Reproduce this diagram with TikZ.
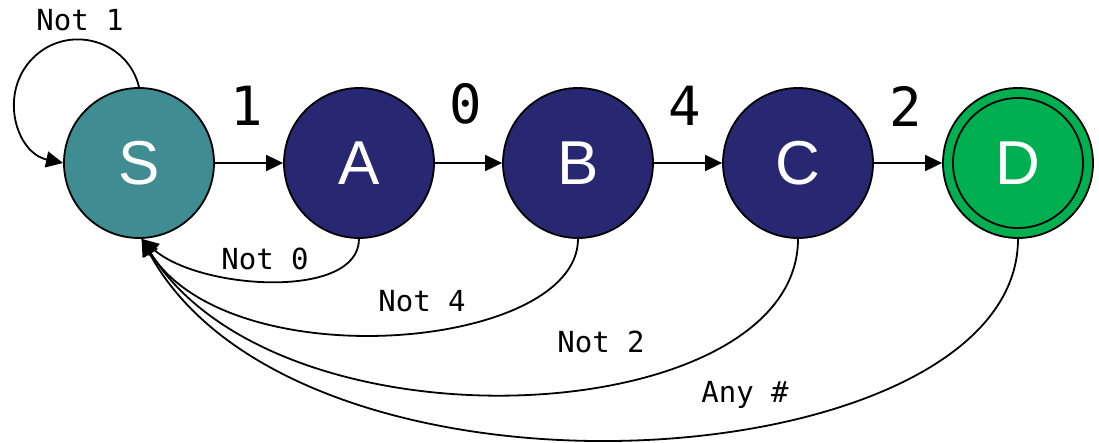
\documentclass[tikz,border=0pt]{standalone}
\usepackage{fontspec}
\setmainfont{Liberation Sans}
\newfontfamily\codefont{DejaVu Sans Mono}
\usetikzlibrary{arrows.meta}
\definecolor{startteal}{HTML}{3F8C92}
\definecolor{midnavy}{HTML}{282872}
\definecolor{acceptgreen}{HTML}{00B050}

\tikzset{
  state/.style={circle,draw=black,line width=1.8pt,minimum size=150pt,inner sep=0pt,
    text=white,font=\fontsize{62}{62}\selectfont},
  edge/.style={line width=1.8pt,-{Triangle[length=17pt,width=16pt]}},
  digit/.style={font=\codefont\fontsize{54}{54}\selectfont},
  note/.style={font=\codefont\fontsize{29}{29}\selectfont}
}

\begin{document}
\begin{tikzpicture}[x=1pt,y=-1pt]
  \useasboundingbox (0,0) rectangle (1099,442);
  % states
  \node[state,fill=startteal] (S) at (139,163) {S};
  \node[state,fill=midnavy] (A) at (359,163) {A};
  \node[state,fill=midnavy] (B) at (578,163) {B};
  \node[state,fill=midnavy] (C) at (798,163) {C};
  \node[state,fill=acceptgreen] (D) at (1018,163) {D};
  \draw[line width=1.8pt] (D.center) circle[radius=65];
  % forward transitions
  \draw[edge] (S) -- (A);
  \draw[edge] (A) -- (B);
  \draw[edge] (B) -- (C);
  \draw[edge] (C) -- (D);
  \node[digit] (k1) at (247,106) {1};
  \node[digit] (k0) at (466,104) {0};
  \node[digit] (k4) at (685,106) {4};
  \node[digit] (k2) at (906,106) {2};
  % self loop on S, two quarter-ish arcs
  \draw[edge] (S.north) .. controls (128,40) and (68,23) .. (33,58)
    .. controls (-2,93) and (16,153) .. (S.west);
  \node[note] (n1) at (80,20) {Not 1};
  % fall back to S
  \draw[edge] (A.south) .. controls (359,300) and (200,290) .. (S.-88);
  \draw[edge] (B.south) .. controls (578,350) and (230,380) .. (S.-88);
  \draw[edge] (C.south) .. controls (798,430) and (280,460) .. (S.-88);
  \draw[edge] (D.south) .. controls (1018,480) and (300,530) .. (S.-88);
  \node[note] (n0) at (265,259) {Not 0};
  \node[note] (n4) at (422,301) {Not 4};
  \node[note] (n2) at (601,342) {Not 2};
  \node[note] (na) at (745,395) {Any \#};
\end{tikzpicture}
\end{document}
